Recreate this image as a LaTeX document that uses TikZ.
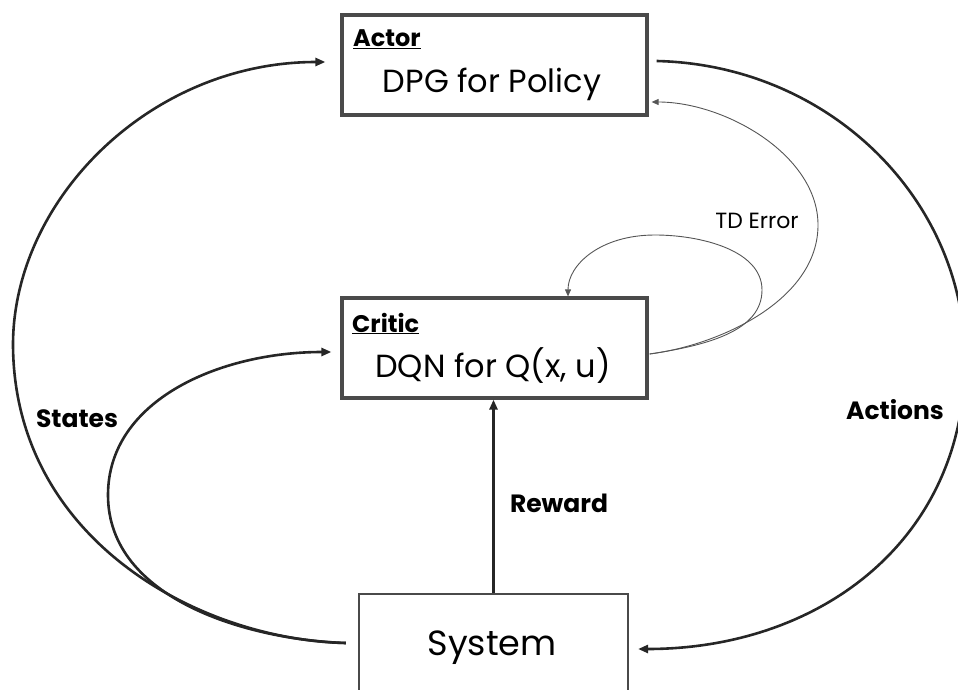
\documentclass[tikz,border=0pt]{standalone}
\usepackage{fontspec}
\setmainfont{Poppins}
\usetikzlibrary{arrows.meta,calc}
\definecolor{boxgray}{HTML}{4A4A4A}
\definecolor{linegray}{HTML}{555555}

\begin{document}
\begin{tikzpicture}[x=1pt,y=-1pt,
  box/.style={draw=boxgray,line width=3.2pt,minimum width=305pt,minimum height=100pt,inner sep=0pt},
  sysbox/.style={draw=boxgray,line width=2.2pt,minimum width=269pt,minimum height=100pt,inner sep=0pt,
    font=\fontsize{35}{40}\selectfont},
  flow/.style={line width=2.6pt,draw=black!85,-{Triangle[length=10pt,width=8pt]}},
  tdarrow/.style={line width=0.9pt,draw=linegray,-{Triangle[length=7pt,width=6pt]}},
  title/.style={font=\fontsize{24}{28}\selectfont\bfseries,inner sep=0pt,anchor=base west},
  body/.style={font=\fontsize{32}{36}\selectfont,inner sep=0pt,anchor=base},
  tag/.style={font=\fontsize{25}{30}\selectfont\bfseries,inner sep=0pt,anchor=base},
  thintag/.style={font=\fontsize{22}{26}\selectfont,inner sep=0pt,anchor=base}
]
\useasboundingbox (0,0) rectangle (958,690);
\clip (0,0) rectangle (958,690);

% blocks
\node[box] (actor) at (494.5,65) {};
\node[box] (critic) at (494.5,348) {};
\node[sysbox] (system) at (493.5,644) {};

% block texts
\node[title] (actorlbl) at (353,47) {\underline{Actor}};
\node[body] (actortxt) at (492,93) {DPG for Policy};
\node[title] (criticlbl) at (352,332) {\underline{Critic}};
\node[body] (critictxt) at (493,377) {DQN for Q(x, u)};
\node[body,font=\fontsize{35}{40}\selectfont] (systxt) at (492,655) {System};

% connector end points
\coordinate (sysL) at ($(system.west)+(-12,-1)$);
\coordinate (actorIn) at ($(actor.west)+(-15,-3)$);
\coordinate (criticIn) at ($(critic.west)+(-9,4)$);
\coordinate (actorOut) at ($(actor.east)+(8,-4)$);
\coordinate (sysIn) at ($(system.east)+(9,5)$);
\coordinate (criticOut) at ($(critic.east)+(1,6)$);
\coordinate (tdActor) at ($(actor.east)+(3,37)$);
\coordinate (tdCritic) at ($(critic.north)+(73.5,0)$);

% states: system -> actor and system -> critic
\draw[flow] (sysL) .. controls (200,640) and (14,540) .. (13,345)
            .. controls (13,200) and (150,62) .. (actorIn);
\draw[flow] (sysL) .. controls (250,640) and (108,600) .. (108,495)
            .. controls (108,400) and (220,352) .. (criticIn);

% actions: actor -> system
\draw[flow] (actorOut) .. controls (830,65) and (965,200) .. (965,360)
            .. controls (965,540) and (820,649) .. (sysIn);

% reward: system -> critic
\draw[flow] (system.north) -- (system.north |- critic.south);

% TD error: critic -> actor and critic -> critic
\draw[tdarrow] (criticOut) .. controls (720,345) and (818,300) .. (818,225)
               .. controls (818,155) and (725,102) .. (tdActor);
\draw[tdarrow] (criticOut) .. controls (710,345) and (762,330) .. (762,290)
               .. controls (762,250) and (700,235) .. (655,235)
               .. controls (600,235) and (568,265) .. (tdCritic);

% labels
\node[tag] (states) at (77,427) {States};
\node[tag] (actions) at (895,419) {Actions};
\node[tag] (reward) at (559,512) {Reward};
\node[thintag] (tderr) at (757,228) {TD Error};
\end{tikzpicture}
\end{document}
